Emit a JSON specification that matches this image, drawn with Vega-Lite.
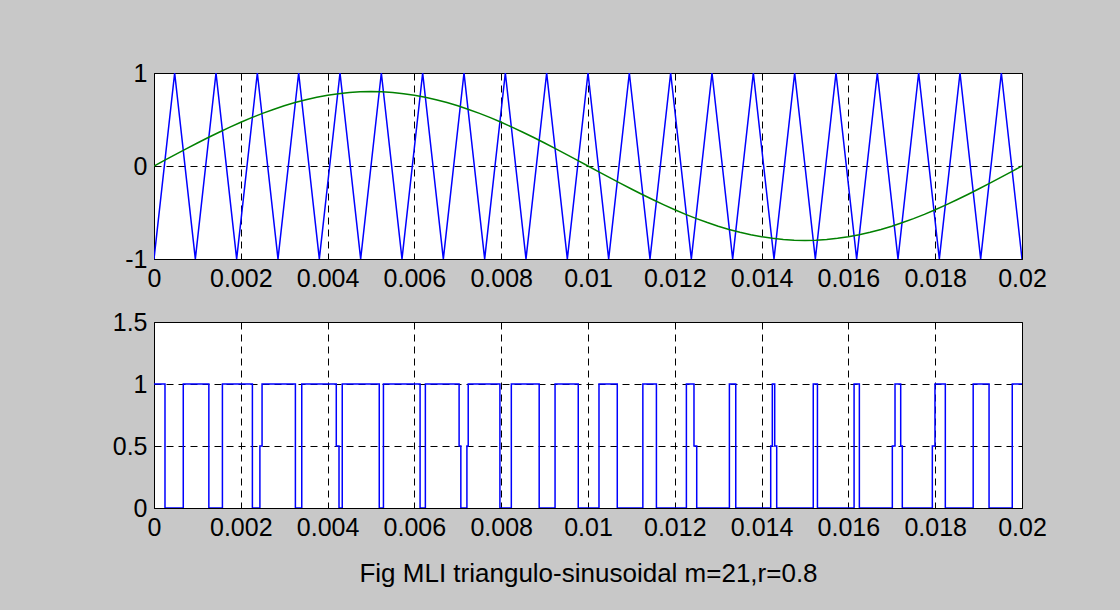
{
  "$schema": "https://vega.github.io/schema/vega-lite/v6.json",
  "background": "#c8c8c8",
  "padding": {"left": 111, "top": 60, "right": 110, "bottom": 40},
  "bounds": "flush",
  "spacing": 63,
  "config": {
    "view": {"stroke": "black", "strokeWidth": 1, "fill": "white"},
    "axis": {
      "domain": false, "ticks": false, "grid": true,
      "gridColor": "black", "gridDash": [7, 5], "gridOpacity": 1, "gridWidth": 1,
      "labelFont": "Liberation Sans", "labelFontSize": 25, "labelColor": "black",
      "labelPadding": 7, "labelFlush": false, "labelOverlap": false,
      "titleFont": "Liberation Sans", "titleFontSize": 26, "titleFontWeight": "normal", "titleColor": "black"
    }
  },
  "datasets": {
    "tri": [
      {"t": 0, "v": -1}, {"t": 0.00047619, "v": 1}, {"t": 0.00095238, "v": -1}, {"t": 0.00142857, "v": 1},
      {"t": 0.00190476, "v": -1}, {"t": 0.00238095, "v": 1}, {"t": 0.00285714, "v": -1}, {"t": 0.00333333, "v": 1},
      {"t": 0.00380952, "v": -1}, {"t": 0.00428571, "v": 1}, {"t": 0.0047619, "v": -1}, {"t": 0.0052381, "v": 1},
      {"t": 0.00571429, "v": -1}, {"t": 0.00619048, "v": 1}, {"t": 0.00666667, "v": -1}, {"t": 0.00714286, "v": 1},
      {"t": 0.00761905, "v": -1}, {"t": 0.00809524, "v": 1}, {"t": 0.00857143, "v": -1}, {"t": 0.00904762, "v": 1},
      {"t": 0.00952381, "v": -1}, {"t": 0.01, "v": 1}, {"t": 0.01047619, "v": -1}, {"t": 0.01095238, "v": 1},
      {"t": 0.01142857, "v": -1}, {"t": 0.01190476, "v": 1}, {"t": 0.01238095, "v": -1}, {"t": 0.01285714, "v": 1},
      {"t": 0.01333333, "v": -1}, {"t": 0.01380952, "v": 1}, {"t": 0.01428571, "v": -1}, {"t": 0.0147619, "v": 1},
      {"t": 0.0152381, "v": -1}, {"t": 0.01571429, "v": 1}, {"t": 0.01619048, "v": -1}, {"t": 0.01666667, "v": 1},
      {"t": 0.01714286, "v": -1}, {"t": 0.01761905, "v": 1}, {"t": 0.01809524, "v": -1}, {"t": 0.01857143, "v": 1},
      {"t": 0.01904762, "v": -1}, {"t": 0.01952381, "v": 1}, {"t": 0.02, "v": -1}
    ],
    "sine": [
      {"t": 0, "v": 0}, {"t": 0.00025, "v": 0.0628}, {"t": 0.0005, "v": 0.1251}, {"t": 0.00075, "v": 0.1868},
      {"t": 0.001, "v": 0.2472}, {"t": 0.00125, "v": 0.3061}, {"t": 0.0015, "v": 0.3632}, {"t": 0.00175, "v": 0.418},
      {"t": 0.002, "v": 0.4702}, {"t": 0.00225, "v": 0.5196}, {"t": 0.0025, "v": 0.5657}, {"t": 0.00275, "v": 0.6083},
      {"t": 0.003, "v": 0.6472}, {"t": 0.00325, "v": 0.6821}, {"t": 0.0035, "v": 0.7128}, {"t": 0.00375, "v": 0.7391},
      {"t": 0.004, "v": 0.7608}, {"t": 0.00425, "v": 0.7779}, {"t": 0.0045, "v": 0.7902}, {"t": 0.00475, "v": 0.7975},
      {"t": 0.005, "v": 0.8}, {"t": 0.00525, "v": 0.7975}, {"t": 0.0055, "v": 0.7902}, {"t": 0.00575, "v": 0.7779},
      {"t": 0.006, "v": 0.7608}, {"t": 0.00625, "v": 0.7391}, {"t": 0.0065, "v": 0.7128}, {"t": 0.00675, "v": 0.6821},
      {"t": 0.007, "v": 0.6472}, {"t": 0.00725, "v": 0.6083}, {"t": 0.0075, "v": 0.5657}, {"t": 0.00775, "v": 0.5196},
      {"t": 0.008, "v": 0.4702}, {"t": 0.00825, "v": 0.418}, {"t": 0.0085, "v": 0.3632}, {"t": 0.00875, "v": 0.3061},
      {"t": 0.009, "v": 0.2472}, {"t": 0.00925, "v": 0.1868}, {"t": 0.0095, "v": 0.1251}, {"t": 0.00975, "v": 0.0628},
      {"t": 0.01, "v": 0}, {"t": 0.01025, "v": -0.0628}, {"t": 0.0105, "v": -0.1251}, {"t": 0.01075, "v": -0.1868},
      {"t": 0.011, "v": -0.2472}, {"t": 0.01125, "v": -0.3061}, {"t": 0.0115, "v": -0.3632}, {"t": 0.01175, "v": -0.418},
      {"t": 0.012, "v": -0.4702}, {"t": 0.01225, "v": -0.5196}, {"t": 0.0125, "v": -0.5657}, {"t": 0.01275, "v": -0.6083},
      {"t": 0.013, "v": -0.6472}, {"t": 0.01325, "v": -0.6821}, {"t": 0.0135, "v": -0.7128}, {"t": 0.01375, "v": -0.7391},
      {"t": 0.014, "v": -0.7608}, {"t": 0.01425, "v": -0.7779}, {"t": 0.0145, "v": -0.7902}, {"t": 0.01475, "v": -0.7975},
      {"t": 0.015, "v": -0.8}, {"t": 0.01525, "v": -0.7975}, {"t": 0.0155, "v": -0.7902}, {"t": 0.01575, "v": -0.7779},
      {"t": 0.016, "v": -0.7608}, {"t": 0.01625, "v": -0.7391}, {"t": 0.0165, "v": -0.7128}, {"t": 0.01675, "v": -0.6821},
      {"t": 0.017, "v": -0.6472}, {"t": 0.01725, "v": -0.6083}, {"t": 0.0175, "v": -0.5657}, {"t": 0.01775, "v": -0.5196},
      {"t": 0.018, "v": -0.4702}, {"t": 0.01825, "v": -0.418}, {"t": 0.0185, "v": -0.3632}, {"t": 0.01875, "v": -0.3061},
      {"t": 0.019, "v": -0.2472}, {"t": 0.01925, "v": -0.1868}, {"t": 0.0195, "v": -0.1251}, {"t": 0.01975, "v": -0.0628},
      {"t": 0.02, "v": 0}
    ],
    "pwm": [
      {"t": 0, "v": 1}, {"t": 0.0002532, "v": 0}, {"t": 0.0006744, "v": 1}, {"t": 0.0012639, "v": 0},
      {"t": 0.0015764, "v": 1}, {"t": 0.0022671, "v": 0}, {"t": 0.00244, "v": 0.5}, {"t": 0.00249, "v": 1},
      {"t": 0.0032579, "v": 0}, {"t": 0.0034046, "v": 1}, {"t": 0.0042, "v": 0.5}, {"t": 0.004263, "v": 0},
      {"t": 0.0043374, "v": 1}, {"t": 0.0051902, "v": 0}, {"t": 0.0052865, "v": 1}, {"t": 0.0061309, "v": 0},
      {"t": 0.0062527, "v": 1}, {"t": 0.00703, "v": 0.5}, {"t": 0.00707, "v": 0}, {"t": 0.00721, "v": 0.5},
      {"t": 0.00724, "v": 1}, {"t": 0.0079703, "v": 0}, {"t": 0.0082332, "v": 1}, {"t": 0.0088752, "v": 0},
      {"t": 0.0092409, "v": 1}, {"t": 0.0097753, "v": 0}, {"t": 0.0102532, "v": 1}, {"t": 0.0106744, "v": 0},
      {"t": 0.0112639, "v": 1}, {"t": 0.0115764, "v": 0}, {"t": 0.0122671, "v": 1}, {"t": 0.012442, "v": 0.5},
      {"t": 0.012505, "v": 0}, {"t": 0.0132579, "v": 1}, {"t": 0.0134046, "v": 0}, {"t": 0.01421, "v": 0.5},
      {"t": 0.014247, "v": 1}, {"t": 0.014302, "v": 0.5}, {"t": 0.014348, "v": 0}, {"t": 0.0151902, "v": 1},
      {"t": 0.0152865, "v": 0}, {"t": 0.0161309, "v": 1}, {"t": 0.0162527, "v": 0}, {"t": 0.017012, "v": 0.5},
      {"t": 0.017074, "v": 1}, {"t": 0.017205, "v": 0.5}, {"t": 0.017242, "v": 0}, {"t": 0.017934, "v": 0.5},
      {"t": 0.017995, "v": 1}, {"t": 0.0182332, "v": 0}, {"t": 0.0188752, "v": 1}, {"t": 0.0192409, "v": 0},
      {"t": 0.0197753, "v": 1}, {"t": 0.02, "v": 1}
    ]
  },
  "vconcat": [
    {
      "width": 868, "height": 186,
      "encoding": {
        "x": {"field": "t", "type": "quantitative",
              "scale": {"domain": [0, 0.02], "nice": false, "zero": false},
              "axis": {"title": null, "values": [0, 0.002, 0.004, 0.006, 0.008, 0.01, 0.012, 0.014, 0.016, 0.018, 0.02],
                       "labelExpr": "toString(datum.value)"}},
        "y": {"field": "v", "type": "quantitative",
              "scale": {"domain": [-1, 1], "nice": false},
              "axis": {"title": null, "values": [-1, 0, 1], "labelExpr": "toString(datum.value)"}}
      },
      "layer": [
        {"data": {"name": "tri"}, "mark": {"type": "line", "color": "#0000ff", "strokeWidth": 1.5, "clip": true}},
        {"data": {"name": "sine"}, "mark": {"type": "line", "color": "#008000", "strokeWidth": 1.5, "clip": true}}
      ]
    },
    {
      "width": 868, "height": 186,
      "data": {"name": "pwm"},
      "mark": {"type": "line", "color": "#0000ff", "strokeWidth": 1.5, "interpolate": "step-after", "clip": true},
      "encoding": {
        "x": {"field": "t", "type": "quantitative",
              "scale": {"domain": [0, 0.02], "nice": false, "zero": false},
              "axis": {"title": "Fig MLI triangulo-sinusoidal m=21,r=0.8", "titlePadding": 20,
                       "values": [0, 0.002, 0.004, 0.006, 0.008, 0.01, 0.012, 0.014, 0.016, 0.018, 0.02],
                       "labelExpr": "toString(datum.value)"}},
        "y": {"field": "v", "type": "quantitative",
              "scale": {"domain": [0, 1.5], "nice": false},
              "axis": {"title": null, "values": [0, 0.5, 1, 1.5], "labelExpr": "toString(datum.value)"}}
      }
    }
  ]
}
